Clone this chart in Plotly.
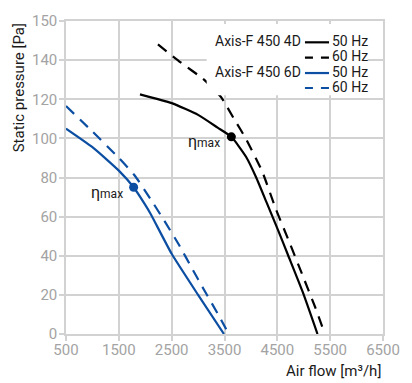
import plotly.graph_objects as go

# ---- data ----
x_4d_50 = [1900, 2500, 3000, 3370, 3630, 3910, 4100, 4300, 4500, 4700, 4980, 5260]
y_4d_50 = [122.5, 118, 112, 105.5, 100.8, 90.5, 80, 67, 54, 40.5, 21.5, 0]
x_4d_60 = [2240, 2670, 3090, 3430, 3680, 3910, 4215, 4470, 4700, 4970, 5215, 5400]
y_4d_60 = [148, 138.8, 130.5, 121.3, 110, 99.6, 83, 64, 48.8, 30.5, 13.8, 0]
x_6d_50 = [500, 1000, 1500, 1780, 2000, 2100, 2500, 3000, 3490]
y_6d_50 = [105, 95.5, 83.5, 75, 66, 61.5, 41, 20, 0]
x_6d_60 = [500, 1000, 1500, 1800, 2100, 2340, 2640, 2880, 3120, 3370, 3580]
y_6d_60 = [116.5, 103.5, 90, 81, 69, 58.8, 45.5, 33.8, 22.2, 10.5, 0]
eta_4d = (3630, 100.8)
eta_6d = (1780, 75)

x_ticks = [500, 1500, 2500, 3500, 4500, 5500, 6500]
y_tickvals = [0, 20, 40, 60, 80, 100, 120, 140, 160]
y_ticktext = ["0", "20", "40", "60", "80", "100", "120", "140", "150"]

models = ["Axis-F 450 4D", "Axis-F 450 6D"]
freqs = ["50 Hz", "60 Hz"]

BLACK = "#000000"
BLUE = "#0b4ea2"
GRID = "#d2d2d2"
TICKC = "#a3a3a3"
TXT = "#1a1a1a"
FONT = "Roboto"
DASH = "11px,8px"

# plot-area geometry in pixels (for placing the hand-made legend)
L, T, W, H = 66, 14, 329, 320
def px(x):
    return (x - L) / W
def py(y):
    return (T + H - y) / H

fig = go.Figure()
for xs, ys, col, dash in [
    (x_6d_50, y_6d_50, BLUE, "solid"),
    (x_6d_60, y_6d_60, BLUE, DASH),
    (x_4d_50, y_4d_50, BLACK, "solid"),
    (x_4d_60, y_4d_60, BLACK, DASH),
]:
    fig.add_trace(go.Scatter(x=xs, y=ys, mode="lines",
                             line=dict(color=col, width=2.2, dash=dash, shape="spline", smoothing=0.5),
                             showlegend=False, hoverinfo="skip"))

for (ex, ey), col in [(eta_4d, BLACK), (eta_6d, BLUE)]:
    fig.add_trace(go.Scatter(x=[ex], y=[ey], mode="markers", marker=dict(color=col, size=9),
                             showlegend=False, hoverinfo="skip"))
    fig.add_annotation(x=ex, y=ey, xref="x", yref="y", showarrow=False, xanchor="right", yanchor="middle",
                       xshift=-9, yshift=-5,
                       text="η<span style='font-size:12px'>max</span>",
                       font=dict(family=FONT, size=16, color=TXT))

# legend box (white, covering grid and curves)
fig.add_shape(type="rect", xref="paper", yref="paper", x0=px(212), x1=px(379), y0=py(90), y1=py(17),
              fillcolor="white", line=dict(width=0), layer="above")

rows = [(34.3, BLACK, "solid"), (50, BLACK, "8px,8px"), (65.7, BLUE, "solid"), (81, BLUE, "8px,8px")]
labels = [freqs[0], freqs[1], freqs[0], freqs[1]]
for (ry, col, d), lab in zip(rows, labels):
    fig.add_shape(type="line", xref="paper", yref="paper", x0=px(314), x1=px(339), y0=py(ry + 1.5), y1=py(ry + 1.5),
                  line=dict(color=col, width=2.2, dash=d), layer="above")
    fig.add_annotation(xref="paper", yref="paper", x=px(341), y=py(ry), xanchor="left", yanchor="middle",
                       showarrow=False, text=lab, borderpad=0, font=dict(family=FONT, size=14, color=TXT))
for m, ry in zip(models, [34.3, 65.7]):
    fig.add_annotation(xref="paper", yref="paper", x=px(311), y=py(ry), xanchor="right", yanchor="middle",
                       showarrow=False, text=m, borderpad=0, font=dict(family=FONT, size=14, color=TXT))

# axis titles
fig.add_annotation(xref="paper", yref="paper", x=1, y=py(372), xanchor="right", yanchor="middle",
                   showarrow=False, text="Air flow [m³/h]", font=dict(family=FONT, size=15, color=TXT))
fig.add_annotation(xref="paper", yref="paper", x=px(17), y=1, xanchor="center", yanchor="top", textangle=-90,
                   showarrow=False, text="Static pressure [Pa]", font=dict(family=FONT, size=15, color=TXT))

axis_common = dict(showgrid=True, gridcolor=GRID, gridwidth=1.5,
                   showline=True, linecolor=GRID, linewidth=1.5, mirror=True, zeroline=False,
                   ticks="outside", ticklen=5, tickcolor=GRID, tickwidth=1.5,
                   tickfont=dict(family=FONT, size=15, color=TICKC))
fig.update_xaxes(range=[500, 6500], tickvals=x_ticks, ticklabelstandoff=-4, **axis_common)
fig.update_yaxes(range=[0, 160], tickvals=y_tickvals, ticktext=y_ticktext, ticklabelstandoff=-1, **axis_common)
fig.update_layout(width=412, height=383, margin=dict(l=L, r=412 - L - W, t=T, b=383 - T - H),
                  paper_bgcolor="white", plot_bgcolor="white", showlegend=False)
fig.write_html("out.html", config={"displayModeBar": False},
               post_script="document.body.style.margin='0';")
